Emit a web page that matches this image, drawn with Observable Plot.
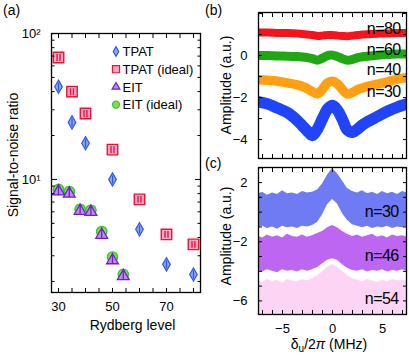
<!DOCTYPE html>
<html><head><meta charset="utf-8">
<script src="https://cdn.jsdelivr.net/npm/d3@7"></script>
<script src="https://cdn.jsdelivr.net/npm/@observablehq/plot@0.6"></script>
<style>
html,body{margin:0;padding:0;background:#fff;}
#fig{position:relative;width:409px;height:355px;overflow:hidden;background:#fff;}
#fig svg{position:absolute;}
</style></head>
<body><div id="fig"></div>
<script>
// ---------- Panel (a): SNR vs Rydberg level ----------
const tpatN = [30, 35, 40, 50, 60, 70, 80];
const tpatSNR = [43.2, 24.6, 17.7, 10.0, 4.55, 2.62, 2.23];
const tpatIdealN = [30, 35, 40, 50, 60, 70, 80];
const tpatIdealSNR = [68.5, 40.0, 28.3, 16.0, 7.3, 4.2, 3.59];
const eitN = [30, 34, 38, 42, 46, 50, 54];
const eitSNR = [8.27, 7.98, 6.09, 5.99, 4.17, 2.79, 2.17];
const eitIdealSNR = [8.54, 8.27, 6.25, 6.15, 4.4, 2.94, 2.24];
const legendLabels = ["TPAT", "TPAT (ideal)", "EIT", "EIT (ideal)"];
const rydbergTicks = [30, 50, 70];
const rydbergMinor = [30, 35, 40, 45, 50, 55, 60, 65, 70, 75, 80];
const snrMajor = [10, 100];
const snrMajorText = ["10\u00B9", "10\u00B2"];
const snrMinor = [2, 3, 4, 5, 6, 7, 8, 9, 20, 30, 40, 50, 60, 70, 80, 90];

// ---------- Panel (b): TPAT spectra ----------
const bFreq = [-7.5,-6.5,-5.5,-4.5,-3.5,-3,-2.5,-2,-1.5,-1,-0.5,0,0.5,1,1.5,2,2.5,3,3.5,4.5,5.5,6.5,7.5];
const bN80 = [1.10,1.10,1.08,1.07,1.05,1.03,1.00,0.98,0.93,0.95,0.98,0.98,0.95,0.93,0.92,0.95,0.98,1.00,1.02,1.04,1.05,1.07,1.08];
const bN60 = [0.00,0.00,-0.02,-0.03,-0.05,-0.07,-0.10,-0.15,-0.22,-0.12,0.00,0.02,-0.05,-0.15,-0.22,-0.18,-0.10,-0.06,-0.03,0.02,0.05,0.07,0.08];
const bN40 = [-1.15,-1.18,-1.22,-1.30,-1.40,-1.47,-1.58,-1.72,-1.82,-1.60,-1.30,-1.22,-1.35,-1.62,-1.83,-1.75,-1.62,-1.54,-1.47,-1.36,-1.25,-1.12,-1.05];
const bN30 = [-2.20,-2.30,-2.50,-2.72,-3.10,-3.35,-3.60,-3.80,-3.50,-3.00,-2.55,-2.38,-2.60,-3.05,-3.55,-3.65,-3.50,-3.30,-3.15,-2.90,-2.65,-2.45,-2.30];
const bLabels = ["n=80", "n=60", "n=40", "n=30"];
const bTickLabels = [0, -2, -4];
const bTickMinor = [-4, -3, -2, -1, 0, 1, 2];

// ---------- Panel (c): EIT spectra (noise envelopes) ----------
const cFreq = [-7.5,-7,-6.5,-6,-5.5,-5,-4.5,-4,-3.5,-3,-2.5,-2,-1.5,-1,-0.5,0,0.5,1,1.5,2,2.5,3,3.5,4,4.5,5,5.5,6,6.5,7,7.5];
const cN30Top = [1.20,1.35,1.15,1.30,1.20,1.45,1.25,1.30,1.20,1.40,1.30,1.35,1.50,1.90,2.50,2.95,2.60,2.10,1.60,1.40,1.30,1.45,1.25,1.35,1.20,1.40,1.25,1.35,1.20,1.40,1.30];
const cN30Bot = [-1.05,-0.95,-1.10,-1.00,-1.15,-0.95,-1.05,-1.00,-1.10,-0.95,-1.00,-0.90,-0.70,-0.20,0.50,0.85,0.55,-0.10,-0.55,-0.85,-0.95,-1.05,-0.95,-1.10,-1.00,-1.05,-0.95,-1.10,-1.00,-1.05,-0.95];
const cN46Top = [-1.60,-1.75,-1.55,-1.70,-1.60,-1.75,-1.50,-1.65,-1.70,-1.55,-1.70,-1.60,-1.45,-1.30,-1.05,-0.90,-1.05,-1.30,-1.50,-1.65,-1.55,-1.70,-1.60,-1.50,-1.70,-1.60,-1.75,-1.55,-1.65,-1.60,-1.70];
const cN46Bot = [-3.95,-4.05,-3.90,-4.00,-4.10,-3.90,-4.00,-3.95,-4.05,-3.90,-4.00,-3.90,-3.75,-3.50,-3.25,-3.15,-3.25,-3.55,-3.80,-3.95,-4.00,-3.90,-4.05,-3.95,-4.00,-3.90,-4.05,-3.95,-4.00,-3.90,-4.00];
const cN54Top = [-4.60,-4.75,-4.55,-4.70,-4.60,-4.80,-4.55,-4.65,-4.70,-4.55,-4.65,-4.50,-4.30,-4.05,-3.75,-3.55,-3.70,-4.00,-4.30,-4.50,-4.60,-4.70,-4.55,-4.65,-4.75,-4.60,-4.70,-4.55,-4.65,-4.60,-4.70];
const cLabels = ["n=30", "n=46", "n=54"];
const cTickLabels = [2, -2, -6];
const cTickMinor = [-6, -5, -4, -3, -2, -1, 0, 1, 2, 3];
const freqTickLabels = [-5, 0, 5];
const freqTickMinor = [-7, -6, -5, -4, -3, -2, -1, 0, 1, 2, 3, 4, 5, 6, 7];

// ---------- helpers ----------
const FONT = '"Liberation Sans", Arial, Helvetica, sans-serif';
const baseStyle = {fontFamily: FONT, fontSize: "13px", background: "none", color: "#000"};
const minus = d => d < 0 ? "\u2212" + Math.abs(d) : String(d);
const blank = () => "";
const tan30 = Math.sqrt(1 / 3);
const diamondBar = {draw(c, s) {
  const y = Math.sqrt(s / (2 * tan30)), x = y * tan30;
  c.moveTo(0, -y); c.lineTo(x, 0); c.lineTo(0, y); c.lineTo(-x, 0); c.closePath();
  c.moveTo(0, -y * 0.6); c.lineTo(0, y * 0.6);
}};
const squareBars = {draw(c, s) {
  const w = Math.sqrt(s) / 2;
  c.moveTo(-w, -w); c.lineTo(w, -w); c.lineTo(w, w); c.lineTo(-w, w); c.closePath();
  const g = w * 0.28;
  c.moveTo(-g, -w * 0.65); c.lineTo(-g, w * 0.65);
  c.moveTo(g, -w * 0.65); c.lineTo(g, w * 0.65);
}};
const triangleBar = {draw(c, s) {
  const y = -Math.sqrt(s / (Math.sqrt(3) * 3));
  c.moveTo(0, y * 2); c.lineTo(-Math.sqrt(3) * y, -y); c.lineTo(Math.sqrt(3) * y, -y); c.closePath();
  c.moveTo(0, y * 1.5); c.lineTo(0, -y * 0.9);
}};
function frameTicksX(values, size) {
  return [
    Plot.axisX({anchor: "bottom", ticks: values, tickSize: -size, tickFormat: blank, label: null}),
    Plot.axisX({anchor: "top", ticks: values, tickSize: -size, tickFormat: blank, label: null})
  ];
}
function frameTicksY(values, size) {
  return [
    Plot.axisY({anchor: "left", ticks: values, tickSize: -size, tickFormat: blank, label: null}),
    Plot.axisY({anchor: "right", ticks: values, tickSize: -size, tickFormat: blank, label: null})
  ];
}
const fig = document.getElementById("fig");
function place(svg, left, top) {
  svg.style.left = left + "px"; svg.style.top = top + "px";
  svg.querySelectorAll(".nlab text").forEach(t => { t.style.letterSpacing = "-0.6px"; });
  fig.appendChild(svg);
}

// ---------- Panel (a) ----------
const A = Plot.plot({
  width: 203, height: 340, marginLeft: 51, marginRight: 3, marginTop: 33, marginBottom: 48,
  style: baseStyle,
  x: {domain: [27.4, 82.6], label: null},
  y: {type: "log", domain: [1.68, 100], label: null},
  marks: [
    Plot.dot(eitN, {x: d => d, y: (d, i) => eitIdealSNR[i], r: 5.2, fill: "#7fe04a", stroke: "#3cc22c", strokeWidth: 1.3}),
    Plot.dot(eitN, {x: d => d, y: (d, i) => eitSNR[i], r: 4.4, symbol: triangleBar, fill: "#c48af3", stroke: "#6a22c8", strokeWidth: 1.3}),
    Plot.dot(tpatIdealN, {x: d => d, y: (d, i) => tpatIdealSNR[i], r: 5.9, symbol: squareBars, fill: "#f9a8cb", stroke: "#ee1133", strokeWidth: 1.4}),
    Plot.dot(tpatN, {x: d => d, y: (d, i) => tpatSNR[i], r: 4.0, symbol: diamondBar, fill: "#8ea6f3", stroke: "#2f55e6", strokeWidth: 1.2}),
    Plot.frame({stroke: "#000", strokeWidth: 1.3}),
    ...frameTicksX(rydbergMinor, 4),
    ...frameTicksY(snrMinor, 3.5),
    ...frameTicksY(snrMajor, 6),
    Plot.axisX({anchor: "bottom", ticks: rydbergTicks, tickSize: 0, tickPadding: 9, tickFormat: d => String(d), label: null}),
    Plot.axisY({anchor: "left", ticks: snrMajor, tickSize: 0, tickPadding: 11, tickFormat: d => snrMajorText[snrMajor.indexOf(d)], label: null})
  ]
});
place(A, 0, 0);

// ---------- Panel (b) ----------
const bSeries = [
  {vals: bN80, color: "#f5141c", w: 8, label: bLabels[0], dy: -4},
  {vals: bN60, color: "#20a812", w: 9, label: bLabels[1], dy: -4},
  {vals: bN40, color: "#ffa012", w: 9.5, label: bLabels[2], dy: -8},
  {vals: bN30, color: "#2244f8", w: 11.5, label: bLabels[3], dy: -12}
];
const B = Plot.plot({
  width: 206, height: 162, marginLeft: 55, marginRight: 3, marginTop: 12, marginBottom: 4,
  style: baseStyle,
  x: {domain: [-7.4, 7.4], label: null},
  y: {domain: [-4.9, 2.05], label: null},
  marks: [
    ...bSeries.map(s => Plot.line(bFreq, {x: d => d, y: (d, i) => s.vals[i], stroke: s.color, strokeWidth: s.w, curve: "catmull-rom", clip: true})),
    ...bSeries.map(s => Plot.text([s], {x: () => bFreq[bFreq.length - 1], y: d => d.vals[d.vals.length - 1], text: d => d.label,
      textAnchor: "end", dx: -7, dy: s.dy, fontSize: 16, className: "nlab"})),
    Plot.frame({stroke: "#000", strokeWidth: 1.3}),
    ...frameTicksX(freqTickMinor, 4),
    ...frameTicksY(bTickMinor, 4),
    Plot.axisY({anchor: "left", ticks: bTickLabels, tickSize: 0, tickPadding: 11, tickFormat: minus, label: null})
  ]
});
place(B, 203, 0);

// ---------- Panel (c) ----------
const cYDomain = [-6.92, 3.02];
const cSeries = [
  {top: cN30Top, bot: cN30Bot, color: "#6f7bf3", label: cLabels[0], dy: 2},
  {top: cN46Top, bot: cN46Bot, color: "#bd66f2", label: cLabels[1], dy: 2},
  {top: cN54Top, bot: null, color: "#fdd4f3", label: cLabels[2], dy: 1}
];
const C = Plot.plot({
  width: 206, height: 193, marginLeft: 55, marginRight: 3, marginTop: 5, marginBottom: 41,
  style: baseStyle,
  x: {domain: [-7.4, 7.4], label: null},
  y: {domain: cYDomain, label: null},
  marks: [
    ...cSeries.map(s => Plot.areaY(cFreq, {x: d => d, y1: (d, i) => s.bot ? s.bot[i] : cYDomain[0] - 0.3, y2: (d, i) => s.top[i], fill: s.color, curve: "linear", clip: true})),
    ...cSeries.map(s => Plot.text([s], {x: () => cFreq[cFreq.length - 1],
      y: d => (d.top[d.top.length - 1] + (d.bot ? d.bot[d.bot.length - 1] : cYDomain[0])) / 2,
      text: d => d.label, textAnchor: "end", dx: -9, dy: s.dy, fontSize: 16, className: "nlab"})),
    Plot.frame({stroke: "#000", strokeWidth: 1.3}),
    ...frameTicksX(freqTickMinor, 4),
    ...frameTicksY(cTickMinor, 4),
    Plot.axisY({anchor: "left", ticks: cTickLabels, tickSize: 0, tickPadding: 11, tickFormat: minus, label: null}),
    Plot.axisX({anchor: "bottom", ticks: freqTickLabels, tickSize: 0, tickPadding: 9, tickFormat: minus, label: null})
  ]
});
place(C, 203, 162);

// ---------- Overlay: panel letters, axis titles, legend ----------
const ov = d3.select(fig).append("svg").attr("width", 409).attr("height", 355)
  .style("left", "0px").style("top", "0px")
  .attr("font-family", FONT).attr("fill", "#000");
ov.append("text").attr("x", 3).attr("y", 15).attr("font-size", 14).text("(a)");
ov.append("text").attr("x", 205).attr("y", 15).attr("font-size", 14).text("(b)");
ov.append("text").attr("x", 205).attr("y", 168).attr("font-size", 14).text("(c)");
ov.append("text").attr("transform", "translate(18,155) rotate(-90)").attr("text-anchor", "middle").attr("font-size", 14).text("Signal-to-noise ratio");
ov.append("text").attr("x", 132.5).attr("y", 330).attr("text-anchor", "middle").attr("font-size", 14).text("Rydberg level");
ov.append("text").attr("transform", "translate(230.5,85) rotate(-90)").attr("text-anchor", "middle").attr("font-size", 14).text("Amplitude (a.u.)");
ov.append("text").attr("transform", "translate(230.5,236) rotate(-90)").attr("text-anchor", "middle").attr("font-size", 14).text("Amplitude (a.u.)");
const xl = ov.append("text").attr("x", 329).attr("y", 349).attr("text-anchor", "middle").attr("font-size", 14);
xl.append("tspan").text("\u03B4");
xl.append("tspan").attr("font-size", 10).attr("dy", 3).text("u");
xl.append("tspan").attr("dy", -3).text("/2");
xl.append("tspan").attr("font-style", "italic").text("\u03C0");
xl.append("tspan").text(" (MHz)");

const legendSyms = [
  {type: d3.symbolDiamond, size: 26, fill: "#8ea6f3", stroke: "#2f55e6"},
  {type: d3.symbolSquare, size: 50, fill: "#f9a8cb", stroke: "#ee1133"},
  {type: d3.symbolTriangle, size: 26, fill: "#c48af3", stroke: "#6a22c8"},
  {type: d3.symbolCircle, size: 40, fill: "#7fe04a", stroke: "#3cc22c"}
];
const legendRowStep = 17.7;
legendLabels.forEach((lab, i) => {
  const cy = 51.5 + i * legendRowStep;
  const s = legendSyms[i];
  ov.append("path").attr("d", d3.symbol(s.type, s.size)()).attr("transform", `translate(116,${cy})`)
    .attr("fill", s.fill).attr("stroke", s.stroke).attr("stroke-width", 1.2);
  ov.append("text").attr("x", 122.5).attr("y", cy + 4.7).attr("font-size", 13).text(lab);
});
</script>
</body></html>
